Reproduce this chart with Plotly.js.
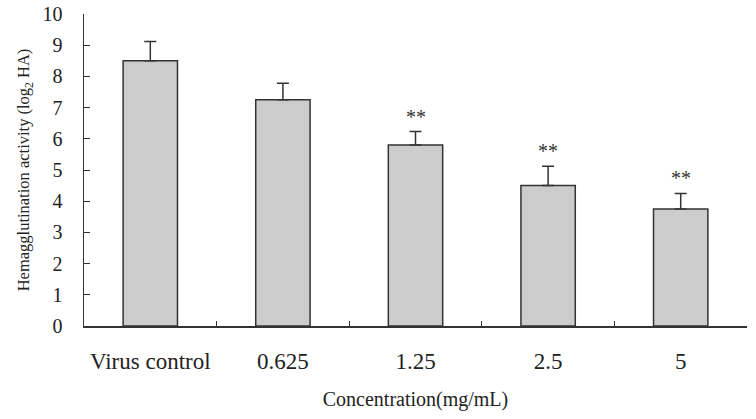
<!DOCTYPE html>
<html>
<head>
<meta charset="utf-8">
<script src="https://cdn.plot.ly/plotly-3.0.1.min.js"></script>
<style>html,body{margin:0;padding:0;background:#fff;}#chart{width:756px;height:419px;}</style>
</head>
<body>
<div id="chart"></div>
<script>
const categories = ["Virus control", "0.625", "1.25", "2.5", "5"];
const values = [8.5, 7.25, 5.8, 4.5, 3.75];
const errors = [0.62, 0.53, 0.43, 0.62, 0.5];
const marks = ["", "", "**", "**", "**"];
const yTicks = [0, 1, 2, 3, 4, 5, 6, 7, 8, 9, 10];

const serif = '"Liberation Serif", "Times New Roman", serif';
const idx = categories.map((c, i) => i);
const trace = {
  type: "bar",
  x: idx,
  y: values,
  marker: {color: "#cccccc", line: {color: "#333333", width: 1.5}},
  error_y: {type: "data", symmetric: false, array: errors, arrayminus: errors.map(() => 0),
            color: "#333333", thickness: 1.5, width: 6},
  hoverinfo: "skip"
};

const annotations = [];
idx.forEach(i => {
  if (marks[i]) annotations.push({
    x: i, y: values[i] + errors[i], xref: "x", yref: "y",
    text: marks[i], showarrow: false, yanchor: "middle", yshift: 15,
    font: {family: serif, size: 20, color: "#333333"}
  });
});

const layout = {
  width: 756, height: 419,
  margin: {l: 84, r: 9, t: 14, b: 93},
  paper_bgcolor: "#ffffff", plot_bgcolor: "#ffffff",
  bargap: 0.59,
  showlegend: false,
  font: {family: serif, color: "#222222"},
  xaxis: {
    type: "linear", range: [-0.5, 4.5],
    tickvals: idx, ticktext: categories,
    showline: true, linecolor: "#333333", linewidth: 1.5,
    ticks: "", showgrid: false, zeroline: false,
    ticklabelstandoff: 14,
    tickfont: {family: serif, size: 23, color: "#222222"},
    title: {text: "Concentration(mg/mL)", font: {family: serif, size: 20, color: "#222222"}, standoff: 19}
  },
  xaxis2: {
    type: "linear", range: [-0.5, 4.5], overlaying: "x", anchor: "y",
    tickvals: [-0.5, 0.5, 1.5, 2.5, 3.5, 4.5], showticklabels: false,
    ticks: "inside", ticklen: 5, tickcolor: "#333333", tickwidth: 1,
    showline: false, showgrid: false, zeroline: false
  },
  yaxis: {
    range: [0, 10], tickvals: yTicks, ticktext: yTicks.map(String),
    showline: true, linecolor: "#333333", linewidth: 1.5,
    ticks: "inside", ticklen: 6, tickcolor: "#333333",
    showgrid: false, zeroline: false,
    ticklabelstandoff: 16,
    tickfont: {family: serif, size: 20, color: "#222222"},
    title: {text: "Hemagglutination activity (log<sub>2</sub> HA)", font: {family: serif, size: 16.5, color: "#222222"}, standoff: 8}
  },
  annotations: annotations
};

const dummy = {type: "scatter", x: [0], y: [0], xaxis: "x2", yaxis: "y", mode: "markers",
               marker: {opacity: 0}, hoverinfo: "skip", showlegend: false};

Plotly.newPlot("chart", [trace, dummy], layout, {displayModeBar: false, staticPlot: true});
</script>
</body>
</html>
